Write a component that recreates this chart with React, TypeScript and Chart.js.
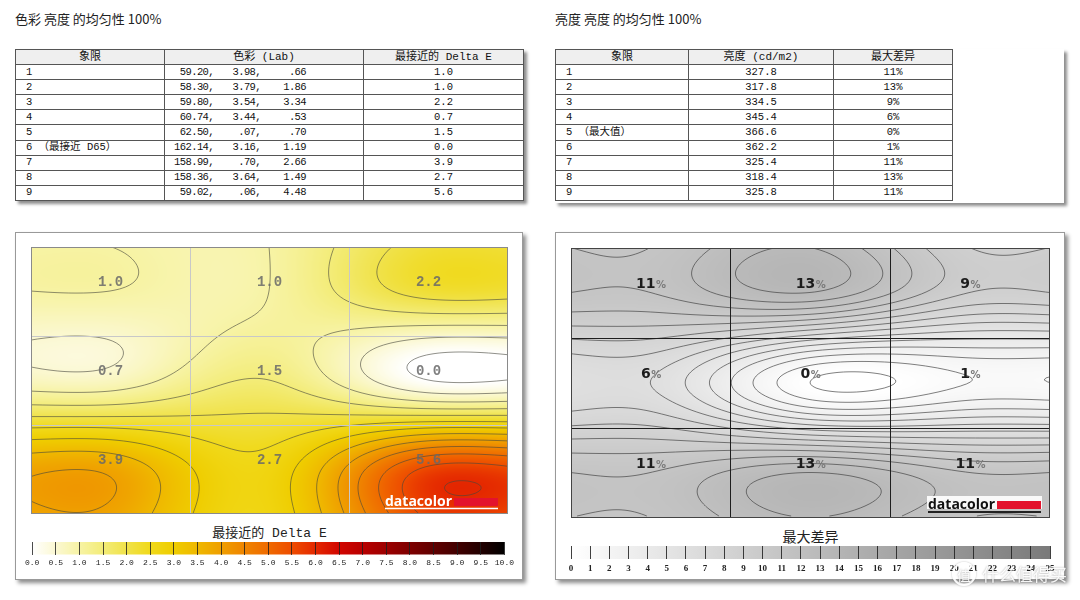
import React, { useEffect, useRef } from "react";
import { Chart, registerables } from "chart.js";

Chart.register(...registerables);

// ---------------- data ----------------
const colorQuadrants = ["1", "2", "3", "4", "5", "6 （最接近 D65）", "7", "8", "9"];
const labL = [59.2, 58.3, 59.8, 60.74, 62.5, 162.14, 158.99, 158.36, 59.02];
const labA = [3.98, 3.79, 3.54, 3.44, 0.07, 3.16, 0.7, 3.64, 0.06];
const labB = [0.66, 1.86, 3.34, 0.53, 0.7, 1.19, 2.66, 1.49, 4.48];
const deltaE = [1.0, 1.0, 2.2, 0.7, 1.5, 0.0, 3.9, 2.7, 5.6];

const lumQuadrants = ["1", "2", "3", "4", "5 （最大值）", "6", "7", "8", "9"];
const luminance = [327.8, 317.8, 334.5, 345.4, 366.6, 362.2, 325.4, 318.4, 325.8];
const maxDiffPct = [11, 13, 9, 6, 0, 1, 11, 13, 11];

const deltaETicks = [0, 0.5, 1, 1.5, 2, 2.5, 3, 3.5, 4, 4.5, 5, 5.5, 6, 6.5, 7, 7.5, 8, 8.5, 9, 9.5, 10];
const diffTicks = [0, 1, 2, 3, 4, 5, 6, 7, 8, 9, 10, 11, 12, 13, 14, 15, 16, 17, 18, 19, 20, 21, 22, 23, 24, 25];

// ---------------- styles ----------------
const DELTA_E_STOPS: [number, string][] = [
  [0, "#ffffff"], [0.5, "#fbf8d2"], [1, "#f7f3a4"], [1.5, "#f3ec78"], [2, "#f0e24a"],
  [2.5, "#f0d91a"], [3, "#efcd00"], [3.5, "#efb800"], [4, "#ef9f00"], [4.5, "#ef8400"],
  [5, "#ef6a00"], [5.5, "#ee4c00"], [6, "#e42800"], [6.5, "#d20600"], [7, "#b80000"],
  [7.5, "#9c0000"], [8, "#7e0000"], [8.5, "#600000"], [9, "#420000"], [9.5, "#220000"], [10, "#000000"],
];
const GRAY_STOPS: [number, string][] = [[0, "#ffffff"], [25, "#7a7a7a"]];

const CJK = '"Noto Sans CJK SC", "Noto Sans", sans-serif';
const MONO_CJK = '"Liberation Mono", "Noto Sans CJK SC", monospace';

// ---------------- helpers ----------------
function hexToRgb(h: string) {
  const n = parseInt(h.slice(1), 16);
  return [(n >> 16) & 255, (n >> 8) & 255, n & 255];
}
function makeLut(stops: [number, string][], max: number, size = 1024) {
  const lut = new Uint8ClampedArray(size * 3);
  const rgb = stops.map(([v, c]) => [v, ...hexToRgb(c)]);
  for (let i = 0; i < size; i++) {
    const v = (i / (size - 1)) * max;
    let k = 0;
    while (k < rgb.length - 2 && v > rgb[k + 1][0]) k++;
    const a = rgb[k], b = rgb[k + 1];
    const t = Math.max(0, Math.min(1, (v - a[0]) / (b[0] - a[0])));
    lut[i * 3] = a[1] + (b[1] - a[1]) * t;
    lut[i * 3 + 1] = a[2] + (b[2] - a[2]) * t;
    lut[i * 3 + 2] = a[3] + (b[3] - a[3]) * t;
  }
  return lut;
}
function splineM(xs: number[], ys: number[]) {
  const n = xs.length;
  const M = new Array(n).fill(0);
  const a: number[] = [], b: number[] = [], c: number[] = [], d: number[] = [];
  for (let i = 1; i < n - 1; i++) {
    const h0 = xs[i] - xs[i - 1], h1 = xs[i + 1] - xs[i];
    a.push(h0 / 6); b.push((h0 + h1) / 3); c.push(h1 / 6);
    d.push((ys[i + 1] - ys[i]) / h1 - (ys[i] - ys[i - 1]) / h0);
  }
  const m = a.length;
  for (let i = 1; i < m; i++) {
    const w = a[i] / b[i - 1];
    b[i] -= w * c[i - 1];
    d[i] -= w * d[i - 1];
  }
  const sol = new Array(m);
  sol[m - 1] = d[m - 1] / b[m - 1];
  for (let i = m - 2; i >= 0; i--) sol[i] = (d[i] - c[i] * sol[i + 1]) / b[i];
  for (let i = 0; i < m; i++) M[i + 1] = sol[i];
  return M;
}
function splineEval(xs: number[], ys: number[], M: number[], x: number) {
  let i = 0;
  while (i < xs.length - 2 && x > xs[i + 1]) i++;
  const h = xs[i + 1] - xs[i];
  const A = (xs[i + 1] - x) / h, B = (x - xs[i]) / h;
  return A * ys[i] + B * ys[i + 1] + ((A * A * A - A) * M[i] + (B * B * B - B) * M[i + 1]) * h * h / 6;
}

type FieldOpts = {
  stops: [number, string][];
  max: number;
  levels: number[];
  lineColor: string;
  mode: "de" | "pct";
  borderColor: string;
};

function makeFieldPlugin(o: FieldOpts) {
  const lut = makeLut(o.stops, o.max);
  return {
    id: "uniformityField",
    beforeDraw(chart: any) {
      const { ctx, chartArea: a, scales } = chart;
      const x = scales.x, y = scales.y;
      const pts = chart.data.datasets[0].data as any[];
      const W = Math.round(a.right - a.left), H = Math.round(a.bottom - a.top);
      const cols = Array.from(new Set(pts.map((p) => p.x))).sort((p: any, q: any) => p - q) as number[];
      const rows = Array.from(new Set(pts.map((p) => p.y))).sort((p: any, q: any) => p - q) as number[];
      const xs = [x.min, ...cols, x.max];
      const ys = [y.min, ...rows, y.max];
      const valAt = (ri: number, ci: number) => pts.find((p) => p.x === cols[ci] && p.y === rows[ri]).v;
      const cl = (k: number, n: number) => Math.min(n - 1, Math.max(0, k - 1));
      const G = ys.map((_, r) => xs.map((__, c) => valAt(cl(r, rows.length), cl(c, cols.length))));
      const rowM = G.map((row) => splineM(xs, row));
      const field = new Float32Array(W * H);
      for (let px = 0; px < W; px++) {
        const u = x.getValueForPixel(a.left + px + 0.5);
        const colVals = G.map((row, r) => splineEval(xs, row, rowM[r], u));
        const cm = splineM(ys, colVals);
        for (let py = 0; py < H; py++) {
          const v = y.getValueForPixel(a.top + py + 0.5);
          field[py * W + px] = splineEval(ys, colVals, cm, v);
        }
      }
      const off = document.createElement("canvas");
      off.width = W; off.height = H;
      const octx = off.getContext("2d")!;
      const img = octx.createImageData(W, H);
      for (let i = 0; i < W * H; i++) {
        let k = Math.round((field[i] / o.max) * 1023);
        k = Math.max(0, Math.min(1023, k));
        img.data[i * 4] = lut[k * 3];
        img.data[i * 4 + 1] = lut[k * 3 + 1];
        img.data[i * 4 + 2] = lut[k * 3 + 2];
        img.data[i * 4 + 3] = 255;
      }
      octx.putImageData(img, 0, 0);
      ctx.drawImage(off, a.left, a.top);

      // contour lines (marching squares)
      ctx.save();
      ctx.beginPath();
      ctx.rect(a.left, a.top, W, H);
      ctx.clip();
      ctx.translate(a.left, a.top);
      ctx.strokeStyle = o.lineColor;
      ctx.lineWidth = 1;
      const s = 2;
      for (const lv of o.levels) {
        ctx.beginPath();
        for (let yy = 0; yy + s < H; yy += s) {
          for (let xx = 0; xx + s < W; xx += s) {
            const v0 = field[yy * W + xx], v1 = field[yy * W + xx + s];
            const v2 = field[(yy + s) * W + xx + s], v3 = field[(yy + s) * W + xx];
            const b0 = v0 > lv, b1 = v1 > lv, b2 = v2 > lv, b3 = v3 > lv;
            if (b0 === b1 && b1 === b2 && b2 === b3) continue;
            const p: number[][] = [];
            if (b0 !== b1) p.push([xx + (s * (lv - v0)) / (v1 - v0), yy]);
            if (b1 !== b2) p.push([xx + s, yy + (s * (lv - v1)) / (v2 - v1)]);
            if (b3 !== b2) p.push([xx + (s * (lv - v3)) / (v2 - v3), yy + s]);
            if (b0 !== b3) p.push([xx, yy + (s * (lv - v0)) / (v3 - v0)]);
            if (p.length === 2) {
              ctx.moveTo(p[0][0], p[0][1]); ctx.lineTo(p[1][0], p[1][1]);
            } else if (p.length === 4) {
              const cv = (v0 + v1 + v2 + v3) / 4;
              if ((cv > lv) === b0) {
                ctx.moveTo(p[0][0], p[0][1]); ctx.lineTo(p[1][0], p[1][1]);
                ctx.moveTo(p[2][0], p[2][1]); ctx.lineTo(p[3][0], p[3][1]);
              } else {
                ctx.moveTo(p[0][0], p[0][1]); ctx.lineTo(p[3][0], p[3][1]);
                ctx.moveTo(p[1][0], p[1][1]); ctx.lineTo(p[2][0], p[2][1]);
              }
            }
          }
        }
        ctx.stroke();
      }
      ctx.restore();
    },
    afterDraw(chart: any) {
      const { ctx, chartArea: a, scales } = chart;
      const x = scales.x, y = scales.y;
      const pts = chart.data.datasets[0].data as any[];
      ctx.save();
      ctx.textBaseline = "middle";
      for (const p of pts) {
        const cx = x.getPixelForValue(p.x);
        const cy = y.getPixelForValue(p.y) - 9;
        if (o.mode === "de") {
          ctx.font = 'bold 14px "Liberation Mono"';
          ctx.fillStyle = "rgba(105,105,105,0.85)";
          ctx.textAlign = "center";
          ctx.fillText(p.v.toFixed(1), cx, cy);
        } else {
          const num = String(p.v);
          ctx.font = 'bold 14px "DejaVu Sans"';
          const w1 = ctx.measureText(num).width;
          ctx.font = 'bold 10px "DejaVu Sans"';
          const w2 = ctx.measureText("%").width;
          const left = cx - (w1 + w2) / 2;
          ctx.textAlign = "left";
          ctx.font = 'bold 14px "DejaVu Sans"';
          ctx.fillStyle = "#1c1c1c";
          ctx.fillText(num, left, cy);
          ctx.font = 'bold 10px "DejaVu Sans"';
          ctx.fillStyle = "#7a7a7a";
          ctx.fillText("%", left + w1 + 0.5, cy + 1);
        }
      }
      // datacolor logo
      const r = a.right, b = a.bottom;
      ctx.textAlign = "left";
      ctx.textBaseline = "alphabetic";
      ctx.font = 'bold 14px "Open Sans"';
      if (o.mode === "de") {
        const tx = r - 123;
        const tw = ctx.measureText("datacolor").width;
        ctx.fillStyle = "#e3132d";
        ctx.fillRect(tx + tw + 2, b - 16, r - 10 - (tx + tw + 2), 8);
        ctx.fillStyle = "#ffffff";
        ctx.fillText("datacolor", tx, b - 8);
        ctx.strokeStyle = "#ffffff";
        ctx.lineWidth = 1.5;
        ctx.beginPath(); ctx.moveTo(tx, b - 5.5); ctx.lineTo(r - 10, b - 5.5); ctx.stroke();
      } else {
        const tx = r - 122;
        const tw = ctx.measureText("datacolor").width;
        ctx.fillStyle = "rgba(255,255,255,0.9)";
        ctx.fillRect(tx - 1, b - 22, r - 8 - (tx - 1), 13);
        ctx.fillStyle = "#e3132d";
        ctx.fillRect(tx + tw + 2, b - 17, r - 9 - (tx + tw + 2), 8);
        ctx.fillStyle = "#111111";
        ctx.fillText("datacolor", tx, b - 9);
        ctx.strokeStyle = "#222222";
        ctx.lineWidth = 2;
        ctx.beginPath(); ctx.moveTo(tx, b - 6); ctx.lineTo(r - 9, b - 6); ctx.stroke();
      }
      // frame
      ctx.strokeStyle = o.borderColor;
      ctx.lineWidth = 1;
      ctx.strokeRect(a.left + 0.5, a.top + 0.5, a.right - a.left - 1, a.bottom - a.top - 1);
      ctx.restore();
    },
  };
}

function Heatmap(props: { values: number[]; opts: FieldOpts; gridColor: string; left: number; top: number; width: number; height: number }) {
  const ref = useRef<HTMLCanvasElement>(null);
  useEffect(() => {
    const points = props.values.map((v, i) => ({ x: (i % 3) + 0.5, y: Math.floor(i / 3) + 0.5, v }));
    const axis = (reverse: boolean) => ({
      type: "linear" as const,
      min: 0,
      max: 3,
      reverse,
      ticks: { display: false, stepSize: 1 },
      grid: { color: props.gridColor, drawTicks: false, lineWidth: 1 },
      border: { display: false },
    });
    const chart = new Chart(ref.current!, {
      type: "scatter",
      data: { datasets: [{ data: points as any, pointRadius: 0, pointHoverRadius: 0 }] },
      options: {
        animation: false,
        responsive: false,
        events: [],
        layout: { padding: 0 },
        plugins: { legend: { display: false }, tooltip: { enabled: false } },
        scales: { x: axis(false), y: axis(true) } as any,
      },
      plugins: [makeFieldPlugin(props.opts) as any],
    });
    return () => chart.destroy();
  }, []);
  return (
    <canvas
      ref={ref}
      width={props.width}
      height={props.height}
      style={{ position: "absolute", left: props.left, top: props.top, width: props.width, height: props.height }}
    />
  );
}

function ColorBar(props: {
  ticks: number[]; stops: [number, string][]; max: number; fmt: (v: number) => string;
  font: any; left: number; top: number; width: number; height: number; tickColor: string;
}) {
  const ref = useRef<HTMLCanvasElement>(null);
  useEffect(() => {
    const fill = {
      id: "colorbarFill",
      beforeDraw(chart: any) {
        const { ctx, chartArea: a } = chart;
        const g = ctx.createLinearGradient(a.left, 0, a.right, 0);
        props.stops.forEach(([v, c]) => g.addColorStop(v / props.max, c));
        ctx.fillStyle = g;
        ctx.fillRect(a.left, a.top, a.right - a.left, a.bottom - a.top);
      },
    };
    const chart = new Chart(ref.current!, {
      type: "scatter",
      data: { datasets: [] },
      options: {
        animation: false,
        responsive: false,
        events: [],
        layout: { padding: { left: 10, right: 10, top: 0, bottom: 0 } },
        plugins: { legend: { display: false }, tooltip: { enabled: false } },
        scales: {
          x: {
            type: "linear",
            min: 0,
            max: props.max,
            afterBuildTicks: (s: any) => { s.ticks = props.ticks.map((value) => ({ value })); },
            ticks: { autoSkip: false, maxRotation: 0, padding: 4, color: "#222", font: props.font, callback: (v: any) => props.fmt(Number(v)) },
            grid: { color: props.tickColor, drawTicks: false, lineWidth: 1 },
            border: { display: false },
          },
          y: { display: false, min: 0, max: 1 },
        } as any,
      },
      plugins: [fill as any],
    });
    return () => chart.destroy();
  }, []);
  return (
    <canvas
      ref={ref}
      width={props.width}
      height={props.height}
      style={{ position: "absolute", left: props.left, top: props.top, width: props.width, height: props.height }}
    />
  );
}

const fmtLab = (v: number) => v.toFixed(2).replace(/^0(?=\.)/, "");

const cellBase: React.CSSProperties = {
  border: "1px solid #555",
  padding: 0,
  height: 14,
  lineHeight: "13px",
  whiteSpace: "nowrap",
  overflow: "hidden",
  fontSize: 10.5,
  color: "#111",
  fontWeight: "normal",
};
const hdr: React.CSSProperties = { ...cellBase, background: "#efefef", textAlign: "center", fontSize: 11 };
const numSpan = (w: number): React.CSSProperties => ({ display: "inline-block", width: w, textAlign: "right", letterSpacing: "-0.6px" });

export default function App() {
  return (
    <div style={{ position: "absolute", left: 0, top: 0, width: 1080, height: 600, background: "#fff", overflow: "hidden", fontFamily: CJK }}>
      <div style={{ position: "absolute", left: 15, top: 10, fontSize: 13, lineHeight: "18px", color: "#222" }}>色彩 亮度 的均匀性 100%</div>
      <div style={{ position: "absolute", left: 555, top: 10, fontSize: 13, lineHeight: "18px", color: "#222" }}>亮度 亮度 的均匀性 100%</div>

      {/* color table */}
      <table
        style={{
          position: "absolute", left: 15, top: 49, width: 508, height: 152, borderCollapse: "collapse", tableLayout: "fixed",
          fontFamily: MONO_CJK, boxShadow: "3px 3px 3px rgba(0,0,0,0.45)", border: "1px solid #333", background: "#fff",
        }}
      >
        <colgroup>
          <col style={{ width: 149 }} />
          <col style={{ width: 199 }} />
          <col style={{ width: 160 }} />
        </colgroup>
        <thead>
          <tr>
            <th style={hdr}>象限</th>
            <th style={hdr}>色彩 (Lab)</th>
            <th style={hdr}>最接近的 Delta E</th>
          </tr>
        </thead>
        <tbody>
          {colorQuadrants.map((q, i) => (
            <tr key={i}>
              <td style={{ ...cellBase, paddingLeft: 10 }}>{q}</td>
              <td style={cellBase}>
                <span style={numSpan(49)}>{fmtLab(labL[i])},</span>
                <span style={numSpan(47)}>{fmtLab(labA[i])},</span>
                <span style={numSpan(45)}>{fmtLab(labB[i])}</span>
              </td>
              <td style={{ ...cellBase, textAlign: "center" }}>{deltaE[i].toFixed(1)}</td>
            </tr>
          ))}
        </tbody>
      </table>

      {/* luminance table */}
      <div style={{ position: "absolute", left: 555, top: 49, width: 509, height: 154, background: "#fff", boxShadow: "3px 3px 3px rgba(0,0,0,0.45)" }}>
        <table
          style={{
            position: "absolute", left: 0, top: 0, width: 397, height: 152, borderCollapse: "collapse", tableLayout: "fixed",
            fontFamily: MONO_CJK, border: "1px solid #333", background: "#fff",
          }}
        >
          <colgroup>
            <col style={{ width: 133 }} />
            <col style={{ width: 145 }} />
            <col style={{ width: 119 }} />
          </colgroup>
          <thead>
            <tr>
              <th style={hdr}>象限</th>
              <th style={hdr}>亮度 (cd/m2)</th>
              <th style={hdr}>最大差异</th>
            </tr>
          </thead>
          <tbody>
            {lumQuadrants.map((q, i) => (
              <tr key={i}>
                <td style={{ ...cellBase, paddingLeft: 10 }}>{q}</td>
                <td style={{ ...cellBase, textAlign: "center" }}>{luminance[i].toFixed(1)}</td>
                <td style={{ ...cellBase, textAlign: "center" }}>{maxDiffPct[i]}%</td>
              </tr>
            ))}
          </tbody>
        </table>
      </div>

      {/* left panel */}
      <div style={{ position: "absolute", left: 15, top: 232, width: 506, height: 346, background: "#fff", border: "1px solid #999", boxShadow: "3px 3px 4px rgba(0,0,0,0.45)" }} />
      <Heatmap
        values={deltaE}
        gridColor="#c8c8c8"
        left={31} top={247} width={477} height={267}
        opts={{ stops: DELTA_E_STOPS, max: 10, levels: deltaETicks, lineColor: "rgba(70,70,60,0.6)", mode: "de", borderColor: "#8a8a8a" }}
      />
      <div style={{ position: "absolute", left: 31, top: 525, width: 477, textAlign: "center", fontSize: 13, lineHeight: "18px", color: "#222", fontFamily: MONO_CJK }}>
        最接近的 Delta E
      </div>
      <ColorBar
        ticks={deltaETicks} stops={DELTA_E_STOPS} max={10} fmt={(v) => v.toFixed(1)}
        font={{ family: '"Liberation Mono"', size: 8 }}
        left={21} top={542} width={497} height={25} tickColor="rgba(30,30,30,0.8)"
      />

      {/* right panel */}
      <div style={{ position: "absolute", left: 555, top: 232, width: 508, height: 346, background: "#fff", border: "1px solid #999", boxShadow: "3px 3px 4px rgba(0,0,0,0.45)" }} />
      <Heatmap
        values={maxDiffPct}
        gridColor="#1e1e1e"
        left={571} top={248} width={479} height={270}
        opts={{ stops: GRAY_STOPS, max: 25, levels: diffTicks, lineColor: "rgba(60,60,60,0.65)", mode: "pct", borderColor: "#444" }}
      />
      <div style={{ position: "absolute", left: 571, top: 527, width: 479, textAlign: "center", fontSize: 14, lineHeight: "18px", color: "#222" }}>
        最大差异
      </div>
      <ColorBar
        ticks={diffTicks} stops={GRAY_STOPS} max={25} fmt={(v) => String(v)}
        font={{ family: '"Liberation Serif"', size: 9, weight: "bold" }}
        left={561} top={546} width={499} height={26} tickColor="rgba(30,30,30,0.85)"
      />

      {/* watermark */}
      <div style={{ position: "absolute", left: 952, top: 561, fontSize: 17, lineHeight: "26px", color: "rgba(255,255,255,0.92)", textShadow: "0 0 2px rgba(0,0,0,0.35)", whiteSpace: "nowrap" }}>
        <span style={{ display: "inline-block", width: 24, height: 24, lineHeight: "22px", textAlign: "center", border: "2px solid rgba(255,255,255,0.92)", borderRadius: "50%", boxSizing: "border-box", fontSize: 14, marginRight: 6, boxShadow: "0 0 2px rgba(0,0,0,0.3)" }}>值</span>
        什么值得买
      </div>
    </div>
  );
}
